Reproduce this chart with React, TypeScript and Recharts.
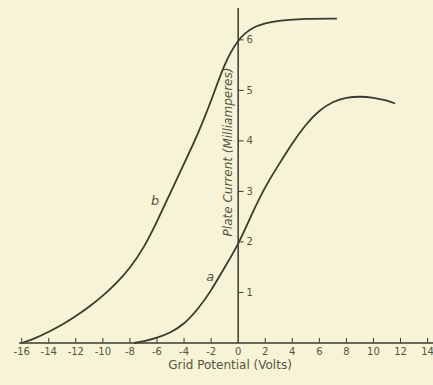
import React from 'react';
import {
  LineChart,
  Line,
  XAxis,
  YAxis,
  ReferenceLine,
  ReferenceDot,
} from 'recharts';

// grid potential (volts) vs plate current (milliamperes)
const curveB = [
  { x: -16, y: 0 },
  { x: -15, y: 0.09 },
  { x: -14, y: 0.22 },
  { x: -13, y: 0.36 },
  { x: -12, y: 0.53 },
  { x: -11, y: 0.72 },
  { x: -10, y: 0.93 },
  { x: -9, y: 1.18 },
  { x: -8, y: 1.48 },
  { x: -7, y: 1.87 },
  { x: -6, y: 2.4 },
  { x: -5, y: 2.98 },
  { x: -4, y: 3.55 },
  { x: -3, y: 4.12 },
  { x: -2, y: 4.78 },
  { x: -1, y: 5.55 },
  { x: 0, y: 6.02 },
  { x: 1, y: 6.24 },
  { x: 2, y: 6.33 },
  { x: 3, y: 6.38 },
  { x: 5, y: 6.42 },
  { x: 7.3, y: 6.42 },
];

const curveA = [
  { x: -7.7, y: 0 },
  { x: -7, y: 0.03 },
  { x: -6, y: 0.1 },
  { x: -5, y: 0.2 },
  { x: -4, y: 0.37 },
  { x: -3, y: 0.66 },
  { x: -2, y: 1.03 },
  { x: -1, y: 1.5 },
  { x: 0, y: 1.94 },
  { x: 1, y: 2.55 },
  { x: 2, y: 3.1 },
  { x: 3, y: 3.53 },
  { x: 4, y: 3.96 },
  { x: 5, y: 4.33 },
  { x: 6, y: 4.61 },
  { x: 7, y: 4.78 },
  { x: 8, y: 4.86 },
  { x: 9, y: 4.88 },
  { x: 10, y: 4.86 },
  { x: 11, y: 4.8 },
  { x: 11.6, y: 4.74 },
];

const xTicks = [-16, -14, -12, -10, -8, -6, -4, -2, 0, 2, 4, 6, 8, 10, 12, 14];
const yTicks = [1, 2, 3, 4, 5, 6];

const ink = '#3b3b2f';
const textInk = '#55553f';
const paper = '#f7f3d6';
const font = '"DejaVu Sans", sans-serif';

const App: React.FC = () => {
  return (
    <div
      style={{
        position: 'fixed',
        left: 0,
        top: 0,
        width: 433,
        height: 385,
        background: paper,
      }}
    >
      <LineChart
        width={433}
        height={385}
        margin={{ top: 8, right: 0, left: 19, bottom: 0 }}
      >
        <XAxis
          type="number"
          dataKey="x"
          domain={[-16.2, 14.4]}
          ticks={xTicks}
          interval={0}
          allowDataOverflow
          height={42}
          tickSize={0}
          tickMargin={5}
          tickLine={false}
          axisLine={{ stroke: ink, strokeWidth: 1.5 }}
          tick={{ fill: textInk, fontSize: 10, fontFamily: font }}
          label={{
            value: 'Grid Potential (Volts)',
            position: 'insideBottom',
            offset: 16,
            dx: 4,
            fill: textInk,
            fontSize: 12,
            fontFamily: font,
          }}
        />
        <YAxis type="number" dataKey="y" domain={[0, 6.63]} hide />

        <ReferenceLine
          segment={[
            { x: 0, y: 0 },
            { x: 0, y: 6.63 },
          ]}
          stroke={ink}
          strokeWidth={1.5}
        />
        {yTicks.map((t) => (
          <ReferenceLine
            key={'y' + t}
            segment={[
              { x: 0, y: t },
              { x: 0.4, y: t },
            ]}
            stroke={ink}
            strokeWidth={1}
            label={{
              value: String(t),
              position: 'right',
              offset: 3,
              fill: textInk,
              fontSize: 10,
              fontFamily: font,
            }}
          />
        ))}
        {xTicks
          .filter((t) => t !== 0)
          .map((t) => (
            <ReferenceLine
              key={'x' + t}
              segment={[
                { x: t, y: 0 },
                { x: t, y: 0.1 },
              ]}
              stroke={ink}
              strokeWidth={1}
            />
          ))}
        <ReferenceLine
          segment={[
            { x: -0.74, y: 2.0 },
            { x: -0.74, y: 5.56 },
          ]}
          stroke="none"
          label={{
            value: 'Plate Current (Milliamperes)',
            position: 'center',
            angle: -90,
            fill: textInk,
            fontSize: 12,
            fontStyle: 'italic',
            fontFamily: font,
          }}
        />

        <Line
          data={curveB}
          dataKey="y"
          type="basis"
          stroke={ink}
          strokeWidth={1.8}
          dot={false}
          isAnimationActive={false}
        />
        <Line
          data={curveA}
          dataKey="y"
          type="basis"
          stroke={ink}
          strokeWidth={1.8}
          dot={false}
          isAnimationActive={false}
        />

        <ReferenceDot
          x={-6.13}
          y={2.83}
          r={0}
          stroke="none"
          label={{
            value: 'b',
            position: 'center',
            fill: textInk,
            fontSize: 13,
            fontStyle: 'italic',
            fontFamily: font,
          }}
        />
        <ReferenceDot
          x={-2.07}
          y={1.31}
          r={0}
          stroke="none"
          label={{
            value: 'a',
            position: 'center',
            fill: textInk,
            fontSize: 13,
            fontStyle: 'italic',
            fontFamily: font,
          }}
        />
      </LineChart>
    </div>
  );
};

export default App;
